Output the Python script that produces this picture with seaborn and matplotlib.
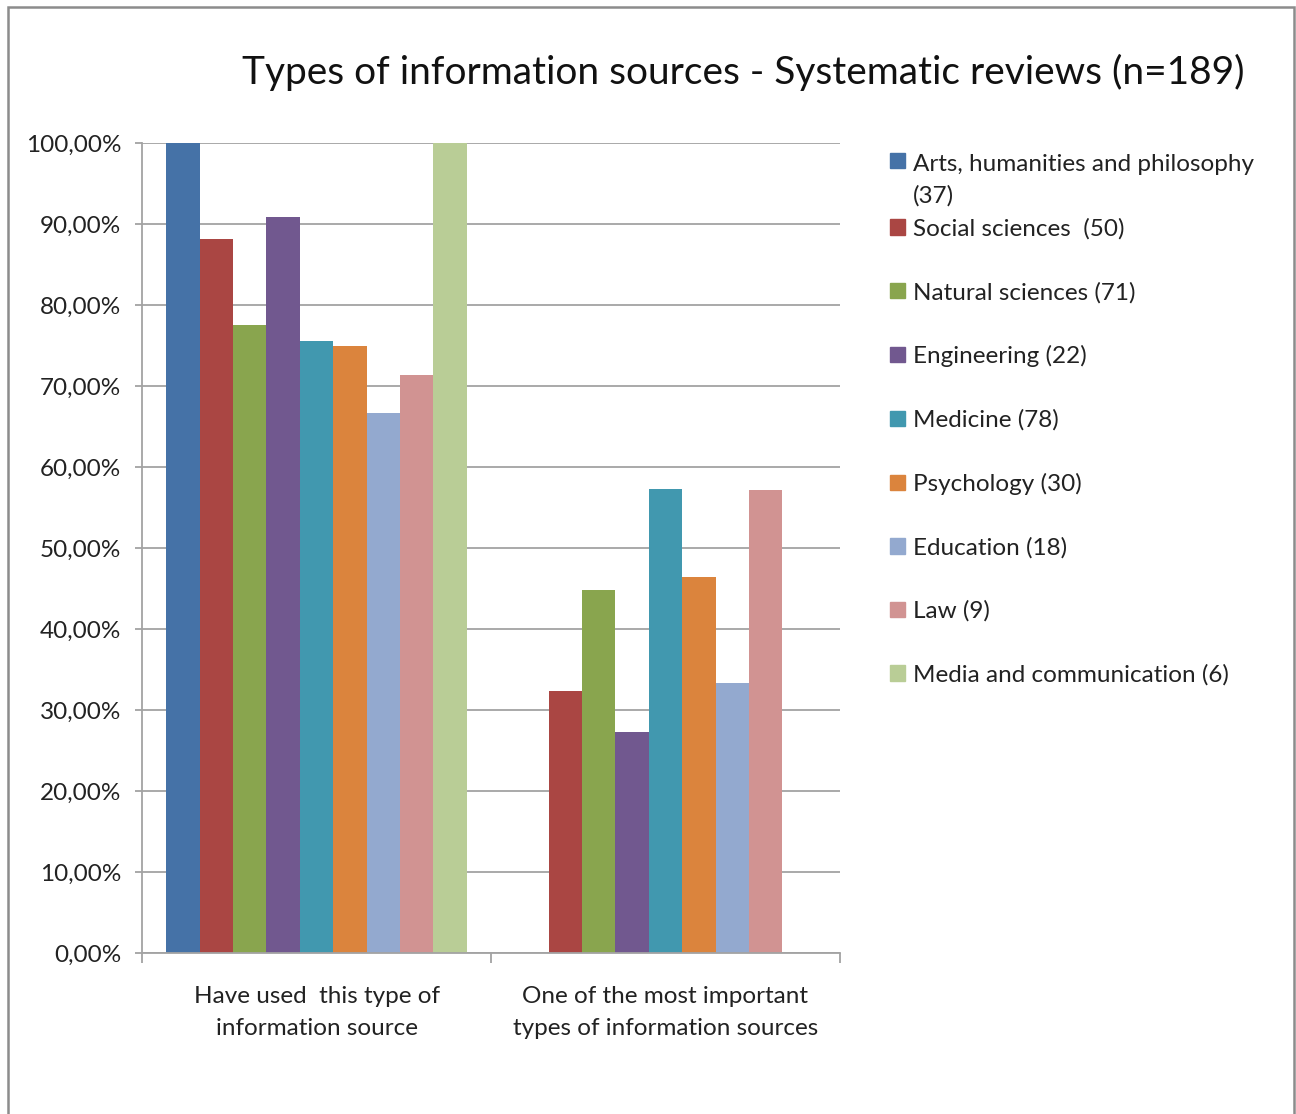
import pandas as pd
import seaborn as sns
import matplotlib.pyplot as plt
import matplotlib.patches as mpatches
from matplotlib.legend_handler import HandlerPatch
from matplotlib.ticker import FuncFormatter, FixedLocator

# --- data ---
categories = ["Have used  this type of\ninformation source",
              "One of the most important\ntypes of information sources"]
fields = ["Arts, humanities and philosophy\n(37)", "Social sciences  (50)",
          "Natural sciences (71)", "Engineering (22)", "Medicine (78)",
          "Psychology (30)", "Education (18)", "Law (9)",
          "Media and communication (6)"]
used = [100.0, 88.2, 77.5, 90.9, 75.6, 75.0, 66.7, 71.4, 100.0]
important = [0.0, 32.3, 44.8, 27.3, 57.3, 46.4, 33.3, 57.1, 0.0]
colors = ["#4572A7", "#AA4643", "#89A54E", "#71588F", "#4198AF",
          "#DB843D", "#93A9CF", "#D19392", "#B9CD96"]

df = pd.DataFrame({
    "category": [categories[0]] * len(fields) + [categories[1]] * len(fields),
    "field": fields + fields,
    "value": used + important,
})

sns.set_style("white")
plt.rcParams['font.family'] = ['Lato', 'DejaVu Sans']

W, H = 1296, 1114
FS = 17.5
fig = plt.figure(figsize=(W / 100, H / 100), dpi=100)
ax = fig.add_axes([142 / W, 1 - 953 / H, 698 / W, 810 / H])

sns.barplot(data=df, x="category", y="value", hue="field", order=categories,
            hue_order=fields, palette=colors, saturation=1, width=0.86,
            linewidth=0, ax=ax, legend=False)

ax.set_xlim(-0.5, 1.5)
ax.set_ylim(0, 100)
ax.set_xlabel("")
ax.set_ylabel("")

grid_c = "#A3A3A3"
ax.set_yticks(range(0, 101, 10))
ax.yaxis.set_major_formatter(FuncFormatter(lambda v, p: f"{v:.2f}%".replace(".", ",")))
ax.yaxis.grid(True, color=grid_c, lw=1.3)
ax.set_axisbelow(True)
for s in ["top", "right"]:
    ax.spines[s].set_visible(False)
for s in ["left", "bottom"]:
    ax.spines[s].set_color(grid_c)
    ax.spines[s].set_linewidth(1.3)

ax.tick_params(axis="y", direction="out", length=5, width=1.3, color=grid_c,
               labelsize=FS, labelcolor="#222222", pad=10, left=True)
ax.tick_params(axis="x", which="major", length=0, labelsize=FS,
               labelcolor="#222222", pad=24)
for lbl in ax.get_xticklabels():
    lbl.set_linespacing(1.6)
ax.xaxis.set_minor_locator(FixedLocator([-0.5, 0.5, 1.5]))
ax.tick_params(axis="x", which="minor", direction="out", length=7, width=1.3,
               color=grid_c, bottom=True)

# title
fig.text(743 / W, 1 - 72 / H, "Types of information sources - Systematic reviews (n=189)",
         ha="center", va="center", fontsize=28, color="#111111")


# the wrapped first entry keeps its square next to the first line
def top_square(legend, orig_handle, xdescent, ydescent, width, height, fontsize):
    return mpatches.Rectangle((-xdescent, -ydescent + 14.5), width, height)


handles = [mpatches.Patch(color=c, label=f) for c, f in zip(colors, fields)]
leg_kw = dict(frameon=False, fontsize=FS, handlelength=0.6, handleheight=0.6,
              handletextpad=0.35, borderpad=0, borderaxespad=0, loc="upper left",
              labelcolor="#222222")
leg1 = fig.legend(handles=handles[:1], bbox_to_anchor=(890 / W, 1 - 154 / H),
                  handler_map={handles[0]: HandlerPatch(patch_func=top_square)},
                  **leg_kw)
for t in leg1.get_texts():
    t.set_linespacing(1.6)
leg2 = fig.legend(handles=handles[1:], bbox_to_anchor=(890 / W, 1 - 218 / H),
                  labelspacing=1.73, **leg_kw)

# outer chart border
fig.patches.append(mpatches.Rectangle((8 / W, -0.02), (1294 - 8) / W, 1.02 - 7 / H,
                                      transform=fig.transFigure, fill=False,
                                      edgecolor="#8C8C8C", lw=1.8))

fig.savefig("out.png", dpi=100)
